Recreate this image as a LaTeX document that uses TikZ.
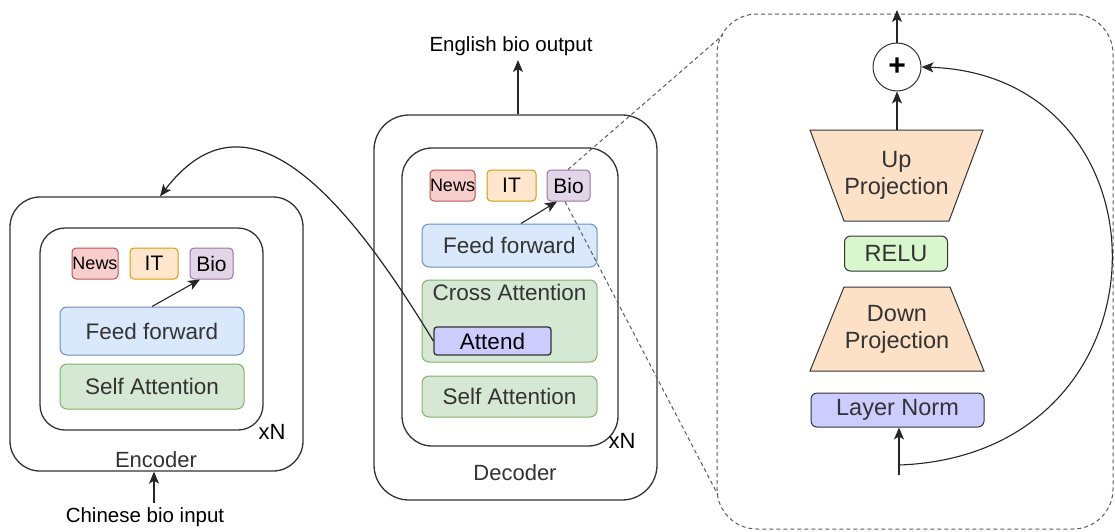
\documentclass[tikz,border=0pt]{standalone}
\usepackage{fontspec}
\setmainfont{Liberation Sans}
\usetikzlibrary{positioning, shapes.geometric, arrows.meta, calc}
\definecolor{newsfill}{HTML}{F8CECC}
\definecolor{newsline}{HTML}{B85450}
\definecolor{itfill}{HTML}{FFE6CC}
\definecolor{itline}{HTML}{D79B00}
\definecolor{biofill}{HTML}{E1D5E7}
\definecolor{bioline}{HTML}{9673A6}
\definecolor{fffill}{HTML}{DAE8FC}
\definecolor{ffline}{HTML}{6C8EBF}
\definecolor{safill}{HTML}{D5E8D4}
\definecolor{saline}{HTML}{82B366}
\definecolor{attfill}{HTML}{CCCCFF}
\definecolor{projfill}{HTML}{FCE1C6}
\definecolor{relufill}{HTML}{D9F7CC}
\definecolor{darkline}{HTML}{333333}

\begin{document}
\begin{tikzpicture}[x=1pt, y=-1pt,
  box/.style={draw=darkline, line width=1.3pt, rounded corners=#1},
  tag/.style={draw=#1line, fill=#1fill, line width=1pt, rounded corners=4pt, minimum height=31pt, inner sep=0pt, font=\fontsize{21}{24}\selectfont},
  layer/.style={draw=#1line, fill=#1fill, line width=1pt, rounded corners=7pt, inner sep=0pt, text=darkline, font=\fontsize{22.5}{26}\selectfont},
  panel/.style={draw=darkline, line width=1pt, inner sep=0pt, text=darkline, font=\fontsize{23.5}{27}\selectfont},
  lbl/.style={font=\fontsize{20.5}{24}\selectfont},
  arr/.style={-{Stealth[length=12pt, width=10pt, inset=3pt]}, line width=1.1pt, draw=black!85},
  zoomline/.style={dashed, dash pattern=on 4pt off 3pt, line width=1pt, draw=darkline!80}]
\useasboundingbox (0,0) rectangle (1115,531);

%% encoder
\node[box=30pt, minimum width=293pt, minimum height=274pt] (enc) at (156.5,334) {};
\node[box=25pt, minimum width=223pt, minimum height=202pt] (encin) at (151.5,329) {};
\node[tag=news, minimum width=46pt, font=\fontsize{18}{20}\selectfont] (encnews) at (95,263.5) {News};
\node[tag=it, minimum width=48pt] (encit) at (154,263.5) {IT};
\node[tag=bio, minimum width=43pt] (encbio) at (211.5,263.5) {Bio};
\node[layer=ff, minimum width=184pt, minimum height=48pt] (encff) at (152,331) {Feed forward};
\node[layer=sa, minimum width=184pt, minimum height=45pt] (encsa) at (152,386.5) {Self Attention};
\node[lbl, font=\fontsize{22}{26}\selectfont] (encxn) at (272,432) {xN};
\node[lbl, font=\fontsize{22}{26}\selectfont, text=darkline] (enclabel) at (156,460) {Encoder};
\node[lbl] (input) at (145,517) {Chinese bio input};
\coordinate (inp) at (154,503);
\draw[arr] (inp) -- (enc.south -| inp);
\draw[arr] (encff.north) -- (encbio.south -| 200,0);

%% decoder
\node[box=35pt, minimum width=283pt, minimum height=385pt] (dec) at (515.5,307.5) {};
\node[box=30pt, minimum width=216pt, minimum height=298pt] (decin) at (510,297) {};
\node[tag=news, minimum width=45pt, font=\fontsize{18}{20}\selectfont] (decnews) at (452.5,185.5) {News};
\node[tag=it, minimum width=49pt] (decit) at (511.5,185.5) {IT};
\node[tag=bio, minimum width=43pt] (decbio) at (568.5,185.5) {Bio};
\node[layer=ff, minimum width=175pt, minimum height=43pt] (decff) at (509.5,245.5) {Feed forward};
\node[layer=sa, minimum width=175pt, minimum height=82pt,
  label={[anchor=north, inner sep=4pt, text=darkline, font=\fontsize{22.5}{26}\selectfont]north:Cross Attention}] (decca) at (509.5,321) {};
\node[draw=darkline, fill=attfill, line width=1.3pt, rounded corners=3pt, inner sep=0pt, minimum width=117pt, minimum height=28pt, font=\fontsize{22.5}{26}\selectfont] (attend) at (492.5,341) {Attend};
\node[layer=sa, minimum width=175pt, minimum height=41pt] (decsa) at (509.5,396.5) {Self Attention};
\node[lbl, font=\fontsize{22}{26}\selectfont] (decxn) at (622,441) {xN};
\node[lbl, font=\fontsize{22}{26}\selectfont, text=darkline] (declabel) at (515,473) {Decoder};
\node[lbl] (output) at (511,46) {English bio output};
\coordinate (outp) at (518,60);
\draw[arr] (dec.north -| outp) -- (outp);
\draw[arr] (decff.north -| 521,0) -- (decbio.south -| 557,0);
\draw[arr, line width=1.2pt] (attend.west) .. controls (330,170) and (240,92) .. (enc.north -| 160,0);

%% adapter zoom
\node[draw=darkline!80, dashed, dash pattern=on 4pt off 3pt, line width=1pt, rounded corners=40pt, minimum width=396pt, minimum height=515pt] (adapter) at (915,271.5) {};
\draw[zoomline] (decbio.north -| 568,0) -- (723,35);
\draw[zoomline] (decbio.south -| 565,0) -- (718,495);
\node[draw=darkline, line width=1pt, circle, minimum size=48pt, inner sep=0pt, font=\bfseries\fontsize{30}{30}\selectfont] (plus) at (897,67) {+};
\draw[darkline, fill=projfill, line width=1pt] (810,130) -- (983,130) -- (949,221) -- (844,221) -- cycle;
\node[minimum width=173pt, minimum height=91pt, inner sep=0pt, align=center, text=darkline, font=\fontsize{23.5}{27}\selectfont] (up) at (896.5,175.5) {Up\\Projection};
\node[panel, fill=relufill, rounded corners=6pt, minimum width=103pt, minimum height=35pt] (relu) at (896,253.5) {RELU};
\draw[darkline, fill=projfill, line width=1pt] (844,287) -- (950,287) -- (984,371) -- (810,371) -- cycle;
\node[minimum width=174pt, minimum height=84pt, inner sep=0pt, align=center, text=darkline, font=\fontsize{23.5}{27}\selectfont] (down) at (897,329) {Down\\Projection};
\node[panel, fill=attfill, rounded corners=6pt, minimum width=173pt, minimum height=34pt] (norm) at (897.5,410) {Layer Norm};
\coordinate (resin) at (899,475);
\coordinate (resfork) at (899,465);
\coordinate (adout) at (897,10);
\draw[arr] (up.north -| plus.south) -- (plus.south);
\draw[arr] (plus.north) -- (adout);
\draw[arr] (resin) -- (norm.south -| resin);
\draw[arr] (resfork) .. controls (1178,455) and (1178,75) .. (plus.east);
\end{tikzpicture}
\end{document}
